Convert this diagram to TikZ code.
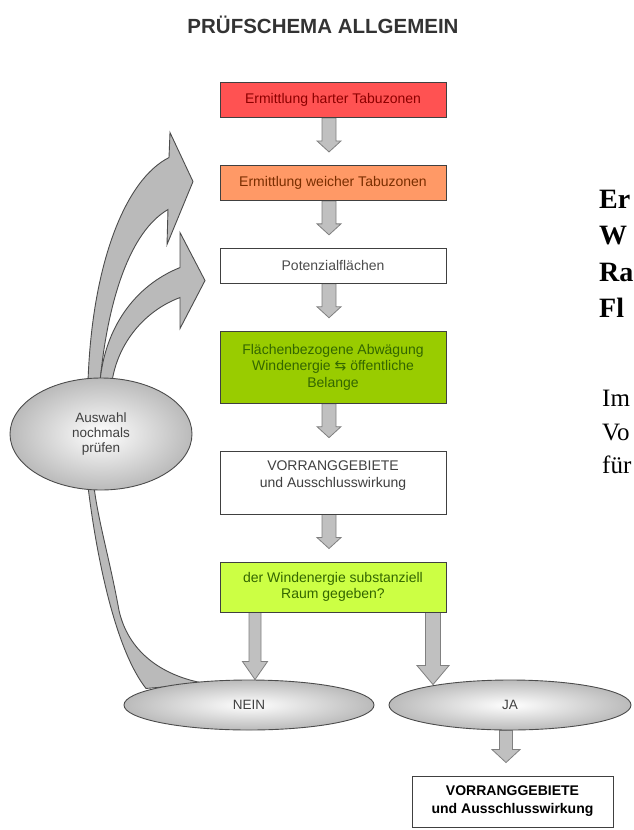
\documentclass[tikz,border=0pt]{standalone}
\usepackage{fontspec}
\setmainfont{Liberation Sans}
\newfontfamily\pageserif{Liberation Serif}
\newfontfamily\symbolfont{DejaVu Sans}
\usepackage{tikz}
\usetikzlibrary{arrows,fit,positioning,shapes.geometric,calc}
\pgfdeclarelayer{background}
\pgfsetlayers{background,main}

\definecolor{hartrot}{HTML}{FF5252}
\definecolor{hartschrift}{HTML}{8C0000}
\definecolor{weichorange}{HTML}{FF9966}
\definecolor{weichschrift}{HTML}{7A2E00}
\definecolor{abwaeggruen}{HTML}{99CC00}
\definecolor{raumgruen}{HTML}{CCFF44}
\definecolor{gruenschrift}{HTML}{336600}
\definecolor{pfeilgrau}{HTML}{C0C0C0}

% straight block arrow: from, to, shaft half width, head half width, head length
\newcommand{\blockdown}[5]{%
  \path[blockpfeil] let \p1=(#1), \p2=(#2) in
    (\x1-#3pt,\y1) -- (\x1-#3pt,\y2+#5pt) -- (\x1-#4pt,\y2+#5pt) -- (\x1,\y2)
    -- (\x1+#4pt,\y2+#5pt) -- (\x1+#3pt,\y2+#5pt) -- (\x1+#3pt,\y1) -- cycle;}

\tikzset{
    %Define style for boxes
    stufe/.style={
           rectangle,
           draw=black!75, line width=0.9pt,
           minimum width=226pt,
           minimum height=35pt,
           inner sep=2pt,
           font=\fontsize{14}{16.5}\selectfont,
           align=center},
    ergebnisbox/.style={
           rectangle,
           draw=black!75, line width=0.9pt,
           fill=white,
           minimum width=201pt,
           minimum height=51pt,
           inner sep=2pt,
           font=\bfseries\fontsize{14}{18}\selectfont,
           align=center},
    %Define style for ellipses
    auswahl/.style={
           ellipse,
           draw=black!70, line width=0.9pt,
           inner sep=0pt,
           shade, inner color=white, outer color=black!27,
           text=black!75,
           font=\fontsize{13.5}{15}\selectfont,
           align=center},
    % Define arrow styles
    blockpfeil/.style={
           fill=pfeilgrau,
           draw=black!50,
           line width=0.8pt},
    bogenpfeil/.style={
           fill=black!27,
           draw=black!70,
           line width=0.9pt},
    titel/.style={
           font=\bfseries\fontsize{20.5}{24}\selectfont,
           text=black!80},
    seitekopf/.style={
           anchor=base west,
           inner sep=0pt,
           font=\pageserif\bfseries\fontsize{28}{34}\selectfont},
    seitetext/.style={
           anchor=base west,
           inner sep=0pt,
           font=\pageserif\fontsize{25}{30}\selectfont}
}

\begin{document}
\begin{tikzpicture}[x=1pt,y=-1pt,node distance=47pt]
\useasboundingbox (0,0) rectangle (633,830);

 %title
\node[titel] (titel) at (323,25) {PRÜFSCHEMA ALLGEMEIN};

 %boxes
\node[stufe, fill=hartrot, text=hartschrift] (hart) at (333,100) {Ermittlung harter Tabuzonen};
\node[stufe, fill=weichorange, text=weichschrift, below=of hart] (weich) {Ermittlung weicher Tabuzonen};
\node[stufe, fill=white, text=black!70, below=of weich] (potenzial) {Potenzialflächen};
\node[stufe, fill=abwaeggruen, text=gruenschrift, minimum height=72pt, below=of potenzial] (abwaegung)
    {Flächenbezogene Abwägung\\Windenergie {\symbolfont ⇆} öffentliche\\Belange};
\node[stufe, fill=white, text=black!75, minimum height=63pt, below=of abwaegung] (vorrang)
    {VORRANGGEBIETE\\und Ausschlusswirkung\\\mbox{}};
\node[stufe, fill=raumgruen, text=gruenschrift, minimum height=50pt, below=of vorrang] (raum)
    {der Windenergie substanziell\\Raum gegeben?};

 %ellipses
\node[auswahl, minimum width=250pt, minimum height=50pt] (nein) at (249,705) {NEIN};
\node[auswahl, minimum width=242pt, minimum height=50pt] (ja) at (510,705) {JA};
\node[auswahl, minimum width=182pt, minimum height=112pt] (pruef) at (101,434) {Auswahl\\nochmals\\prüfen};

\node[ergebnisbox] (ergebnis) at (512.5,801.5) {VORRANGGEBIETE\\und Ausschlusswirkung};

 %arrows
\begin{pgfonlayer}{background}
\foreach \a/\b in {hart/weich,weich/potenzial,potenzial/abwaegung,abwaegung/vorrang,vorrang/raum}
    \blockdown{$(\a.south)+(-4,0)$}{$(\b.north)+(-4,-13)$}{7}{12}{11};
\blockdown{$(raum.south)+(-78,0)$}{nein.north}{6}{12.5}{18}
\blockdown{$(raum.south)+(100,0)$}{$(ja.north)+(0,5)$}{7.5}{16}{19}
\blockdown{$(ja.south)+(-4,0)$}{$(ergebnis.north)+(0,-13)$}{6.5}{14}{13}

\draw[bogenpfeil, shift={(pruef.north)}] (-13,4) .. controls (-9,-113) and (24,-198) .. (68,-220)
    -- (69,-245) -- (92,-196) -- (66,-133) -- (67,-168)
    .. controls (29,-146) and (7,-78) .. (-1,4) -- cycle;
\draw[bogenpfeil, shift={(pruef.north)}] (-1,4) .. controls (4,-50) and (34,-92) .. (79,-110)
    -- (79,-145) -- (104,-97) -- (79,-49) -- (79,-80)
    .. controls (44,-67) and (17,-35) .. (11,4) -- cycle;
\draw[bogenpfeil, shift={(pruef.south)}] (-13,-4) .. controls (-4,70) and (15,160) .. (45,198)
    -- (104,193) .. controls (59,185) and (27,160) .. (18,120)
    .. controls (9,70) and (-3,30) .. (-7,-4) -- cycle;
\end{pgfonlayer}

 %text of the page beside
\foreach \zeile/\ypos [count=\i] in {Er/208,W/244.5,Ra/281,Fl/317}
    \node[seitekopf] (kopf-\i) at (599,\ypos) {\zeile};
\foreach \zeile/\ypos [count=\i] in {Im/406,Vo/440,für/473}
    \node[seitetext] (zeile-\i) at (602,\ypos) {\zeile};

\end{tikzpicture}
\end{document}
